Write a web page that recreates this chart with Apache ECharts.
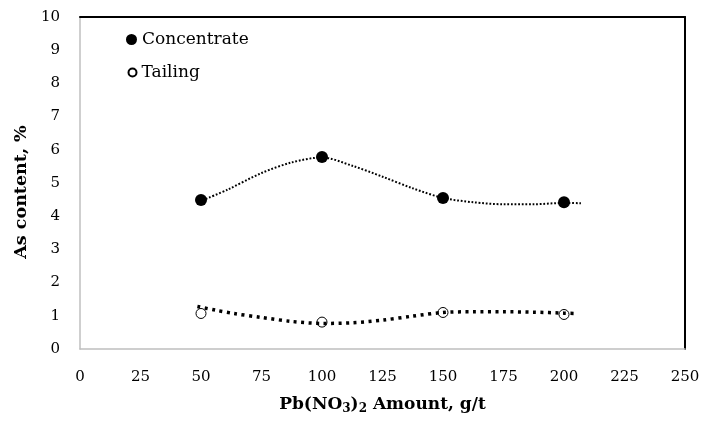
<!DOCTYPE html>
<html>
<head>
<meta charset="utf-8">
<script src="https://cdn.jsdelivr.net/npm/echarts@6/dist/echarts.min.js"></script>
<style>
html,body{margin:0;padding:0;background:#fff;}
#chart{width:703px;height:421px;}
</style>
</head>
<body>
<div id="chart"></div>
<script>
// Data
var xValues = [50, 100, 150, 200];
var concentrate = [4.49, 5.78, 4.55, 4.42];
var tailing = [1.07, 0.81, 1.10, 1.04];

// Dotted trend lines, sampled by reading them off the picture
var concTrendX = [52, 61, 75, 87.5, 100, 112.5, 125, 137.5, 150, 162.5, 175, 187.5, 200, 207];
var concTrendY = [4.52, 4.80, 5.30, 5.62, 5.77, 5.52, 5.19, 4.84, 4.55, 4.42, 4.36, 4.36, 4.40, 4.39];
var tailTrendX = [48.5, 56, 63.5, 75, 87.5, 100, 112.5, 125, 137.5, 150, 162.5, 175, 187.5, 200, 205];
var tailTrendY = [1.28, 1.17, 1.07, 0.95, 0.83, 0.77, 0.79, 0.87, 0.99, 1.10, 1.12, 1.12, 1.11, 1.08, 1.07];

var xTicks = {min: 0, max: 250, interval: 25};
var yTicks = {min: 0, max: 10, interval: 1};

function pairs(xs, ys) { return xs.map(function (x, i) { return [x, ys[i]]; }); }

var FONT = "'DejaVu Serif', 'Liberation Serif', serif";
var chart = echarts.init(document.getElementById('chart'), null, {renderer: 'canvas'});
chart.setOption({
  animation: false,
  backgroundColor: '#ffffff',
  textStyle: {fontFamily: FONT, color: '#000'},
  grid: {left: 80, right: 18, top: 17, bottom: 72, containLabel: false},
  legend: [
    {
      data: [{name: 'Concentrate', textStyle: {fontFamily: FONT, fontSize: 17, color: '#000'}}],
      left: 126, top: 31, orient: 'vertical', padding: 0,
      itemWidth: 11, itemHeight: 11,
      textStyle: {fontFamily: FONT, fontSize: 17, color: '#000'}
    },
    {
      data: [{name: 'Tailing', textStyle: {fontFamily: FONT, fontSize: 17, color: '#000'}}],
      left: 127.5, top: 64, orient: 'vertical', padding: 0,
      itemWidth: 8, itemHeight: 8,
      textStyle: {fontFamily: FONT, fontSize: 17, color: '#000'}
    }
  ],
  xAxis: [
    {
      type: 'value', min: xTicks.min, max: xTicks.max, interval: xTicks.interval,
      name: '{b|Pb(NO}{s|3}{b|)}{s|2}{b| Amount, g/t}',
      nameLocation: 'middle', nameGap: 46,
      nameTextStyle: {
        rich: {
          b: {fontFamily: FONT, fontWeight: 'bold', fontSize: 17, color: '#000'},
          s: {fontFamily: FONT, fontWeight: 'bold', fontSize: 12, color: '#000', verticalAlign: 'bottom', padding: [8, 0, 0, 0]}
        }
      },
      axisLine: {show: true, onZero: false, lineStyle: {color: '#bfbfbf', width: 1.5}},
      axisTick: {show: false},
      splitLine: {show: false},
      axisLabel: {margin: 21, fontFamily: FONT, fontSize: 15, color: '#000'}
    },
    {
      type: 'value', position: 'top', min: xTicks.min, max: xTicks.max,
      axisLine: {show: true, onZero: false, lineStyle: {color: '#000', width: 2}},
      axisTick: {show: false}, axisLabel: {show: false}, splitLine: {show: false}
    }
  ],
  yAxis: [
    {
      type: 'value', min: yTicks.min, max: yTicks.max, interval: yTicks.interval,
      name: 'As content, %', nameLocation: 'middle', nameGap: 47,
      nameTextStyle: {fontFamily: FONT, fontWeight: 'bold', fontSize: 17.5, color: '#000', padding: [0, 18, 0, 0]},
      axisLine: {show: true, onZero: false, lineStyle: {color: '#bfbfbf', width: 1.5}},
      axisTick: {show: false},
      splitLine: {show: false},
      axisLabel: {margin: 20, fontFamily: FONT, fontSize: 15, color: '#000'}
    },
    {
      type: 'value', position: 'right', min: yTicks.min, max: yTicks.max,
      axisLine: {show: true, onZero: false, lineStyle: {color: '#000', width: 2}},
      axisTick: {show: false}, axisLabel: {show: false}, splitLine: {show: false}
    }
  ],
  series: [
    {
      name: 'Concentrate trend', type: 'line', smooth: 0.3, showSymbol: false, symbol: 'none',
      data: pairs(concTrendX, concTrendY),
      lineStyle: {color: '#000', width: 2, type: [1.8, 1.8], cap: 'butt'}, z: 2
    },
    {
      name: 'Tailing trend', type: 'line', smooth: 0.3, showSymbol: false, symbol: 'none',
      data: pairs(tailTrendX, tailTrendY),
      lineStyle: {color: '#000', width: 3.5, type: [3, 4.5], cap: 'butt'}, z: 2
    },
    {
      name: 'Concentrate', type: 'scatter', symbol: 'circle', symbolSize: 12,
      data: pairs(xValues, concentrate),
      itemStyle: {color: '#000', borderColor: '#000', borderWidth: 0, opacity: 1}, z: 3
    },
    {
      name: 'Tailing', type: 'scatter', symbol: 'circle', symbolSize: 10,
      data: pairs(xValues, tailing),
      itemStyle: {color: 'rgba(255,255,255,0)', borderColor: '#000', borderWidth: 1, opacity: 1}, z: 3
    }
  ]
});
</script>
</body>
</html>
